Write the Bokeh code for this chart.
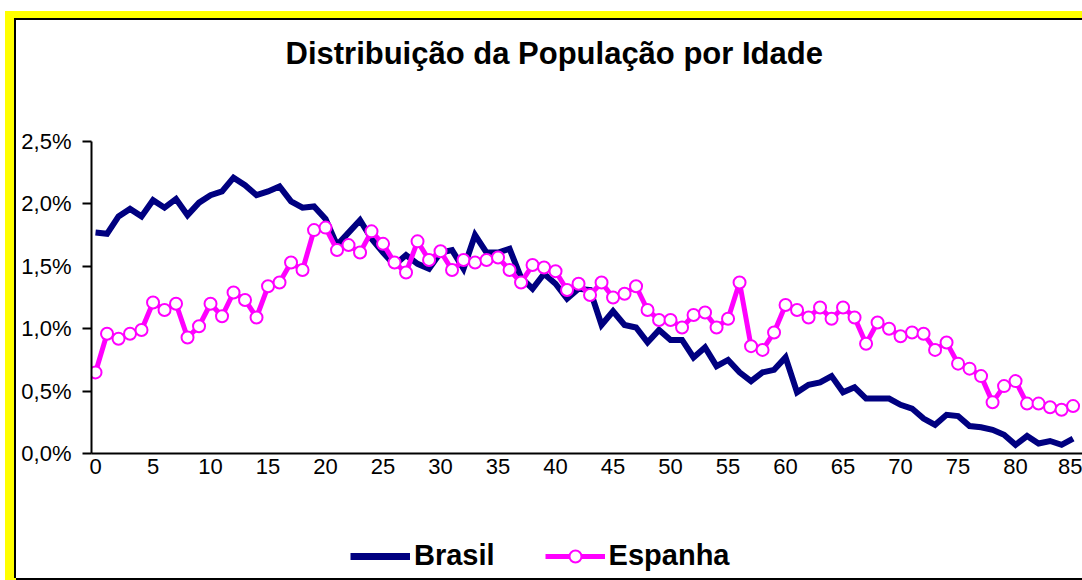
from bokeh.plotting import figure
from bokeh.layouts import column
from bokeh.models import Range1d, FixedTicker, Legend, LegendItem, Title
from bokeh.embed import file_html
from bokeh.resources import INLINE

title_text = "Distribuição da População por Idade"

ages = list(range(0, 86))

brasil = [1.77, 1.76, 1.90, 1.96, 1.90, 2.03, 1.97, 2.04, 1.91, 2.01,
          2.07, 2.10, 2.21, 2.15, 2.07, 2.10, 2.14, 2.02, 1.97, 1.98,
          1.88, 1.67, 1.77, 1.87, 1.72, 1.61, 1.51, 1.59, 1.52, 1.48,
          1.61, 1.63, 1.48, 1.75, 1.61, 1.61, 1.64, 1.41, 1.32, 1.44,
          1.36, 1.24, 1.32, 1.31, 1.03, 1.14, 1.03, 1.01, 0.89, 0.99,
          0.91, 0.91, 0.77, 0.85, 0.70, 0.75, 0.65, 0.58, 0.65, 0.67,
          0.77, 0.49, 0.55, 0.57, 0.62, 0.49, 0.53, 0.44, 0.44, 0.44,
          0.39, 0.36, 0.28, 0.23, 0.31, 0.30, 0.22, 0.21, 0.19, 0.15,
          0.07, 0.14, 0.08, 0.10, 0.07, 0.12]

espanha = [0.65, 0.96, 0.92, 0.96, 0.99, 1.21, 1.15, 1.20, 0.93, 1.02,
           1.20, 1.10, 1.29, 1.23, 1.09, 1.34, 1.37, 1.53, 1.47, 1.79,
           1.81, 1.63, 1.67, 1.61, 1.78, 1.68, 1.53, 1.45, 1.70, 1.55,
           1.62, 1.47, 1.55, 1.53, 1.55, 1.57, 1.47, 1.37, 1.51, 1.49,
           1.46, 1.31, 1.36, 1.27, 1.37, 1.25, 1.28, 1.34, 1.15, 1.07,
           1.07, 1.01, 1.11, 1.13, 1.01, 1.08, 1.37, 0.86, 0.83, 0.97,
           1.19, 1.15, 1.09, 1.17, 1.08, 1.17, 1.09, 0.88, 1.05, 1.00,
           0.94, 0.97, 0.96, 0.83, 0.89, 0.72, 0.68, 0.62, 0.41, 0.54,
           0.58, 0.40, 0.40, 0.37, 0.35, 0.38]

series_names = ["Brasil", "Espanha"]
x_ticks = list(range(0, 86, 5))
y_ticks = [0.0, 0.5, 1.0, 1.5, 2.0, 2.5]
y_tick_labels = ["0,0%", "0,5%", "1,0%", "1,5%", "2,0%", "2,5%"]

FONT = "Liberation Sans"
NAVY = "#000080"
MAGENTA = "#FF00FF"

# ---------------- main chart ----------------
p = figure(width=1066, height=468,
           x_range=Range1d(-0.35, 85.82), y_range=Range1d(0, 2.5),
           output_backend="svg", toolbar_location=None,
           min_border_left=75, min_border_right=0,
           min_border_top=121, min_border_bottom=35)

p.background_fill_color = "white"
p.border_fill_color = "white"
p.outline_line_color = None
p.xgrid.visible = False
p.ygrid.visible = False

top_spacer = Title(text=" ", text_font_size="1px", standoff=68)
p.add_layout(top_spacer, "above")
main_title = Title(text=title_text, text_font=FONT, text_font_size="31px",
                   text_font_style="bold", text_color="black",
                   align="left", offset=194, standoff=0,
                   vertical_align="bottom")
p.add_layout(main_title, "above")

p.xaxis.ticker = FixedTicker(ticks=x_ticks)
p.xaxis.major_tick_out = 0
p.xaxis.major_tick_in = 0
p.xaxis.minor_tick_out = 0
p.xaxis.minor_tick_in = 0
p.xaxis.major_label_standoff = 5
p.xaxis.axis_line_width = 2
p.xaxis.axis_line_color = "black"

p.yaxis.ticker = FixedTicker(ticks=y_ticks)
p.yaxis.major_label_overrides = {t: l for t, l in zip(y_ticks, y_tick_labels)}
p.yaxis.major_tick_out = 9
p.yaxis.major_tick_in = 0
p.yaxis.minor_tick_out = 0
p.yaxis.minor_tick_in = 0
p.yaxis.major_tick_line_width = 2
p.yaxis.major_label_standoff = 11
p.yaxis.axis_line_width = 2
p.yaxis.axis_line_color = "black"

for ax in (p.xaxis, p.yaxis):
    ax.major_label_text_font = FONT
    ax.major_label_text_font_size = "22px"
    ax.major_label_text_color = "black"

p.line(ages, brasil, line_color=NAVY, line_width=6, line_join="miter")
p.line(ages, espanha, line_color=MAGENTA, line_width=5)
p.scatter(ages, espanha, marker="circle", size=12,
          fill_color="white", line_color=MAGENTA, line_width=2)

# ---------------- legend strip (same series, drawn outside its view) ----------------
q = figure(width=1066, height=90, output_backend="svg", toolbar_location=None,
           x_range=Range1d(-0.35, 85.82), y_range=Range1d(-3, -2),
           x_axis_location=None, y_axis_location=None,
           min_border=0, min_border_left=0, min_border_right=0,
           min_border_top=0, min_border_bottom=0)
q.background_fill_color = "white"
q.border_fill_color = "white"
q.outline_line_color = None
q.xgrid.visible = False
q.ygrid.visible = False

lg_br = q.line(ages, brasil, line_color=NAVY, line_width=7)
lg_es = q.line(ages, espanha, line_color=MAGENTA, line_width=5)
lg_es_m = q.scatter(ages, espanha, marker="circle", size=12,
                    fill_color="white", line_color=MAGENTA, line_width=2)

legend = Legend(items=[LegendItem(label=series_names[0], renderers=[lg_br]),
                       LegendItem(label=series_names[1], renderers=[lg_es, lg_es_m])],
                orientation="horizontal", location=(259, 6),
                glyph_width=60, glyph_height=30, label_standoff=4, spacing=50,
                padding=0, margin=0,
                label_text_font=FONT, label_text_font_size="29px",
                label_text_font_style="bold", label_text_color="black",
                border_line_color=None, background_fill_alpha=0)
q.add_layout(legend, "center")

layout = column(p, q, spacing=0,
                styles={"position": "absolute", "left": "16px", "top": "20px",
                        "box-shadow": ("-2px 0 0 0 #000000, 0 -2px 0 0 #000000, "
                                       "0 2px 0 0 #000000, -2px -2px 0 0 #000000, "
                                       "-11px -9px 0 0 #FFFF00, 0 -9px 0 0 #FFFF00, "
                                       "-11px 9px 0 0 #FFFF00")})

open("out.html", "w").write(file_html(layout, INLINE))
